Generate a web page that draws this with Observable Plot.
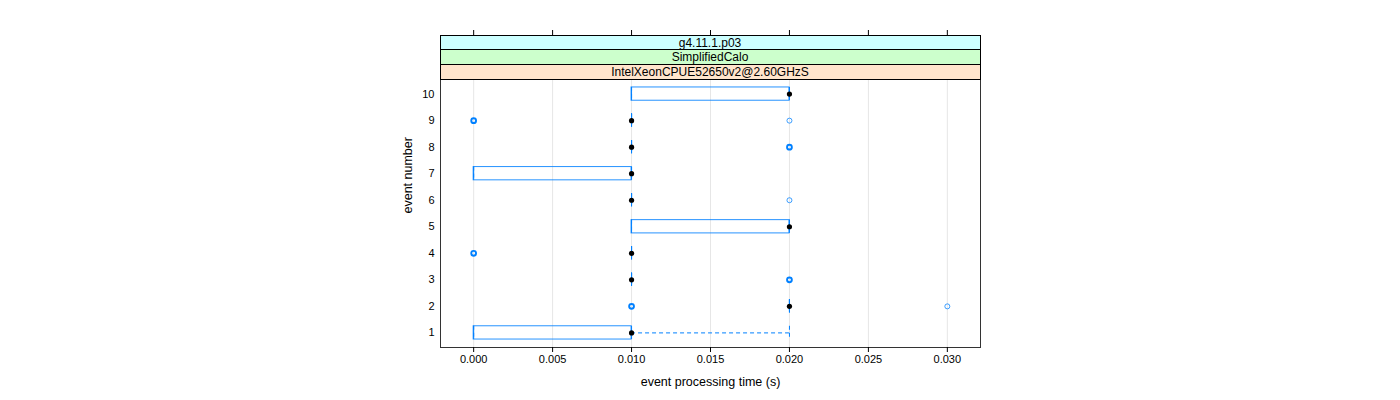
<!DOCTYPE html>
<html><head><meta charset="utf-8">
<script src="https://cdn.jsdelivr.net/npm/d3@7"></script>
<script src="https://cdn.jsdelivr.net/npm/@observablehq/plot@0.6"></script>
<style>
body{margin:0;background:#fff;}
svg{font-family:"Liberation Sans",Arial,sans-serif;}
</style>
</head><body><div id="chart"></div>
<script>
// ---- data ----
const events = [1, 2, 3, 4, 5, 6, 7, 8, 9, 10];
const lowerWhisker = [0.000, 0.020, 0.010, 0.010, 0.010, 0.010, 0.000, 0.010, 0.010, 0.010];
const lowerHinge   = [0.000, 0.020, 0.010, 0.010, 0.010, 0.010, 0.000, 0.010, 0.010, 0.010];
const medians      = [0.010, 0.020, 0.010, 0.010, 0.020, 0.010, 0.010, 0.010, 0.010, 0.020];
const upperHinge   = [0.010, 0.020, 0.010, 0.010, 0.020, 0.010, 0.010, 0.010, 0.010, 0.020];
const upperWhisker = [0.020, 0.020, 0.010, 0.010, 0.020, 0.010, 0.010, 0.010, 0.010, 0.020];
const outlierEvent = [2, 2, 2, 3, 3, 4, 4, 6, 8, 8, 9, 9, 9];
const outlierTime  = [0.010, 0.010, 0.030, 0.020, 0.020, 0.000, 0.000, 0.020, 0.020, 0.020, 0.000, 0.000, 0.020];
const xTicks = [0.000, 0.005, 0.010, 0.015, 0.020, 0.025, 0.030];
const stripLabels = ["g4.11.1.p03", "SimplifiedCalo", "IntelXeonCPUE52650v2@2.60GHzS"];
const stripColors = ["#ccffff", "#ccffcc", "#ffe5cc"];
const xLabel = "event processing time (s)";
const yLabel = "event number";

const blue = "#0080ff";
const boxes = events.map((e, i) => ({event: e, lo: lowerWhisker[i], q1: lowerHinge[i], med: medians[i], q3: upperHinge[i], hi: upperWhisker[i]}));
// overlapping outliers (same event and time) are drawn once with a heavier stroke
const counts = d3.rollup(outlierEvent.map((e, i) => [e, outlierTime[i]]), v => v.length, d => d[0] + "|" + d[1]);
const outliers = Array.from(counts, ([k, n]) => {
  const [e, t] = k.split("|");
  return {event: +e, time: +t, n};
});

const plot = Plot.plot({
  width: 1400,
  height: 400,
  marginLeft: 440,
  marginRight: 420,
  marginTop: 79,
  marginBottom: 53,
  style: {fontFamily: "'Liberation Sans', Arial, sans-serif", background: "#fff"},
  x: {domain: [-0.0021, 0.0321]},
  y: {type: "band", domain: events.slice().reverse(), paddingInner: 0.5, paddingOuter: 0.3, round: false},
  marks: [
    Plot.gridX(xTicks, {stroke: "#e6e6e6", strokeOpacity: 1}),
    Plot.ruleY(boxes, {y: "event", x1: "lo", x2: "q1", stroke: blue, strokeDasharray: "4,3"}),
    Plot.ruleY(boxes, {y: "event", x1: "q3", x2: "hi", stroke: blue, strokeDasharray: "4,3"}),
    Plot.tickX(boxes, {x: "lo", y: "event", stroke: blue, strokeDasharray: "4,3"}),
    Plot.tickX(boxes, {x: "hi", y: "event", stroke: blue, strokeDasharray: "4,3"}),
    Plot.barX(boxes, {x1: "q1", x2: "q3", y: "event", fill: "none", stroke: blue, strokeOpacity: 0.85}),
    Plot.tickX(boxes, {x: "q1", y: "event", stroke: blue}),
    Plot.tickX(boxes, {x: "q3", y: "event", stroke: blue}),
    Plot.dot(outliers.filter(d => d.n > 1), {x: "time", y: "event", r: 2.4, stroke: blue, fill: "none", strokeWidth: 1.9}),
    Plot.dot(outliers.filter(d => d.n === 1), {x: "time", y: "event", r: 2.5, stroke: blue, fill: "none", strokeWidth: 1, strokeOpacity: 0.75}),
    Plot.dot(boxes, {x: "med", y: "event", r: 2.6, fill: "black", stroke: "none"}),
    Plot.frame({stroke: "#333"}),
    Plot.axisX({ticks: xTicks, tickFormat: d3.format(".3f"), tickSize: 5, tickPadding: 3, fontSize: 11, label: null}),
    Plot.axisX({anchor: "top", ticks: xTicks, tickFormat: () => "", tickSize: 6, label: null, dy: -44}),
    Plot.axisY({tickSize: 0, tickPadding: 6, fontSize: 11, label: null}),
    Plot.text([xLabel], {frameAnchor: "bottom", dy: 38, fontSize: 12.5, fill: "black"}),
    Plot.text([yLabel], {frameAnchor: "left", dx: -33, rotate: -90, fontSize: 12.5, fill: "black"})
  ]
});

// strips above the panel
const xr = plot.scale("x").range;
const svg = d3.select(plot);
const stripTop = [35.5, 49.5, 64.5];
const stripBottom = [49.5, 64.5, 79.5];
const g = svg.append("g");
stripLabels.forEach((lab, i) => {
  g.append("rect")
    .attr("x", xr[0] + 0.5).attr("y", stripTop[i])
    .attr("width", xr[1] - xr[0]).attr("height", stripBottom[i] - stripTop[i])
    .attr("fill", stripColors[i]).attr("stroke", "black");
  g.append("text")
    .attr("x", (xr[0] + xr[1]) / 2).attr("y", (stripTop[i] + stripBottom[i]) / 2)
    .attr("dy", "0.36em").attr("text-anchor", "middle")
    .attr("font-size", 12).attr("fill", "black").text(lab);
});
document.getElementById("chart").appendChild(plot);
</script>
</body></html>
